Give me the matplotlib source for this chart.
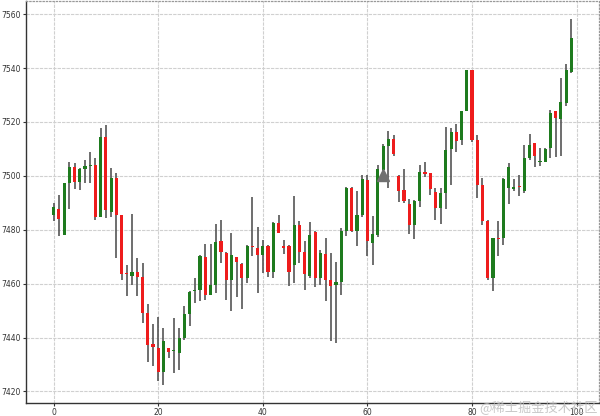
import matplotlib
matplotlib.use("Agg")
import matplotlib.pyplot as plt
import numpy as np

opens = [7485.5, 7487.8, 7477.9, 7497.5, 7503.2, 7497.9, 7502.6, 7503.8, 7504.1, 7484.7,
         7514.4, 7486.7, 7499.2, 7485.5, 7463.7, 7463.0, 7464.2, 7462.3, 7449.1, 7437.6,
         7436.3, 7427.2, 7436.3, 7434.9, 7434.2, 7440.0, 7448.8, 7457.1, 7457.5, 7469.8,
         7455.9, 7459.6, 7475.9, 7471.3, 7461.4, 7469.8, 7467.2, 7462.0, 7474.0, 7473.2,
         7470.7, 7473.8, 7464.2, 7482.5, 7473.8, 7473.8, 7467.0, 7481.8, 7471.9, 7462.9,
         7479.0, 7462.0, 7471.1, 7461.2, 7459.4, 7460.8, 7479.4, 7495.4, 7479.4, 7485.5,
         7498.5, 7475.1, 7478.1, 7502.2, 7510.9, 7513.6, 7500.1, 7494.8, 7489.6, 7481.8,
         7490.5, 7501.4, 7501.0, 7494.0, 7488.0, 7493.6, 7509.9, 7516.1, 7513.4, 7523.9,
         7539.1, 7513.4, 7496.7, 7483.1, 7462.0, 7476.9, 7476.9, 7495.5, 7495.3, 7496.1,
         7494.2, 7506.6, 7512.1, 7505.1, 7505.3, 7510.3, 7523.9, 7521.2, 7527.0, 7538.7]
closes = [7488.4, 7484.1, 7497.4, 7503.2, 7497.7, 7502.6, 7503.5, 7504.0, 7484.9, 7514.5,
          7487.2, 7499.2, 7485.3, 7463.7, 7463.4, 7464.5, 7462.4, 7449.1, 7437.3, 7436.5,
          7427.4, 7438.6, 7434.6, 7435.2, 7440.0, 7448.8, 7457.0, 7457.4, 7470.3, 7455.9,
          7459.6, 7475.5, 7471.9, 7461.4, 7470.7, 7467.9, 7462.0, 7473.8, 7473.5, 7470.7,
          7473.8, 7464.2, 7482.5, 7478.7, 7473.4, 7464.5, 7481.8, 7471.9, 7463.7, 7478.1,
          7462.0, 7471.3, 7461.4, 7459.2, 7460.8, 7479.4, 7495.4, 7479.4, 7485.5, 7498.9,
          7475.7, 7478.4, 7502.5, 7510.9, 7513.6, 7508.2, 7494.2, 7490.5, 7481.8, 7490.5,
          7501.3, 7500.8, 7495.1, 7488.0, 7493.6, 7509.7, 7516.2, 7513.1, 7523.9, 7539.1,
          7513.4, 7496.7, 7483.1, 7462.0, 7476.9, 7476.6, 7498.8, 7503.2, 7495.5, 7495.7,
          7506.6, 7511.5, 7507.2, 7505.6, 7509.9, 7523.5, 7521.4, 7527.3, 7539.1, 7551.3]
highs = [7490.1, 7493.0, 7497.4, 7505.0, 7504.7, 7502.9, 7505.8, 7508.7, 7506.5, 7517.6,
         7518.8, 7502.9, 7501.0, 7485.5, 7467.0, 7485.9, 7469.7, 7467.6, 7452.5, 7445.1,
         7447.8, 7443.5, 7436.3, 7447.2, 7443.5, 7451.8, 7457.4, 7462.0, 7470.7, 7474.8,
         7474.8, 7482.2, 7483.7, 7471.9, 7478.7, 7469.8, 7467.6, 7474.4, 7492.1, 7481.2,
         7476.3, 7474.4, 7482.7, 7485.5, 7476.3, 7474.4, 7492.4, 7483.4, 7475.7, 7482.7,
         7479.4, 7472.6, 7476.9, 7471.3, 7468.2, 7480.6, 7495.7, 7495.7, 7494.2, 7500.4,
         7500.4, 7485.2, 7504.1, 7511.9, 7516.8, 7515.2, 7500.4, 7502.5, 7491.4, 7490.9,
         7504.1, 7505.1, 7501.0, 7495.4, 7495.4, 7518.0, 7517.7, 7519.3, 7523.9, 7539.3,
         7539.3, 7515.2, 7499.2, 7483.7, 7476.9, 7483.1, 7499.2, 7504.7, 7498.9, 7500.4,
         7511.3, 7515.5, 7512.1, 7510.3, 7510.5, 7524.3, 7523.9, 7536.3, 7541.6, 7558.1]
lows = [7483.4, 7477.5, 7477.9, 7487.8, 7495.1, 7494.6, 7497.5, 7497.3, 7483.7, 7484.7,
        7484.3, 7484.7, 7469.5, 7461.2, 7455.6, 7459.6, 7455.6, 7445.4, 7431.1, 7429.3,
        7423.7, 7422.5, 7432.4, 7427.0, 7428.0, 7439.2, 7444.4, 7452.8, 7453.4, 7453.8,
        7455.9, 7456.5, 7467.6, 7454.0, 7449.7, 7455.0, 7450.6, 7460.4, 7470.1, 7456.5,
        7463.9, 7462.4, 7462.0, 7478.7, 7471.1, 7459.3, 7460.4, 7467.6, 7457.7, 7462.0,
        7458.9, 7459.6, 7453.4, 7438.6, 7437.9, 7455.9, 7477.8, 7479.0, 7473.8, 7484.7,
        7470.1, 7467.0, 7477.3, 7500.4, 7495.4, 7507.4, 7490.2, 7490.1, 7478.5, 7476.6,
        7488.6, 7499.5, 7493.0, 7483.7, 7482.2, 7487.7, 7496.7, 7509.0, 7511.3, 7523.9,
        7512.4, 7491.7, 7481.8, 7461.2, 7457.1, 7470.1, 7474.4, 7489.6, 7494.2, 7492.6,
        7493.8, 7506.0, 7503.2, 7503.5, 7505.0, 7506.8, 7507.0, 7507.2, 7526.0, 7538.3]
marker_x = [63]
marker_y = [7500.4]
watermark = "@稀土掘金技术社区"

x = np.arange(len(opens))
o = np.array(opens); c = np.array(closes)
h = np.array(highs); l = np.array(lows)
up = c >= o
colors = np.where(up, '#1e7b1e', '#ee1c1c')
bottoms = np.minimum(o, c)
heights = np.maximum(np.abs(c - o), 0.4)

fig = plt.figure(figsize=(6.0, 4.16), dpi=100)
ax = fig.add_axes([26/600, 13/416, 573/600, 402/416])

ax.grid(True, color='#d0d0d0', linestyle='--', dashes=(3, 1), linewidth=0.8, zorder=0)
ax.set_axisbelow(True)
ax.vlines(x, l, h, color='#555555', linewidth=1.2, zorder=2)
ax.bar(x, heights, bottom=bottoms, width=0.6, color=colors, linewidth=0, zorder=3)
ax.plot(marker_x, marker_y, marker='^', markersize=8, color='#707070', linestyle='none', zorder=4)

ax.margins(x=0.05, y=0.05)
ax.set_yticks([7420, 7440, 7460, 7480, 7500, 7520, 7540, 7560])
ax.set_xticks([0, 20, 40, 60, 80, 100])
ax.tick_params(labelsize=5.5, length=2, width=0.8, pad=1.5, colors='#333333')
for s in ['left', 'bottom']:
    ax.spines[s].set_color('#333333')
    ax.spines[s].set_linewidth(1.0)
for s in ['top', 'right']:
    ax.spines[s].set_color('#999999')
    ax.spines[s].set_linestyle(':')
    ax.spines[s].set_linewidth(0.9)

fig.text(0.997, 0.003, watermark, ha='right', va='bottom', fontsize=9.5,
         color='#bbbbbb', alpha=0.8, family=['Noto Sans CJK SC', 'DejaVu Sans'])

fig.savefig('out.png', dpi=100)
